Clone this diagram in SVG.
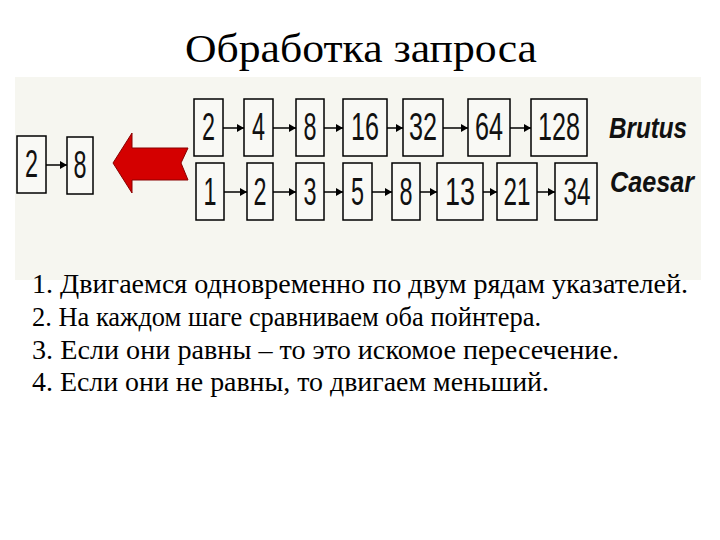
<svg xmlns="http://www.w3.org/2000/svg" width="720" height="540" viewBox="0 0 720 540">
<style>
.box{fill:#f9f9f5;stroke:#000;stroke-width:1.5}
.num{font-family:"Liberation Sans",Arial,sans-serif;font-size:38px;fill:#111;text-anchor:middle}
.lab{font-family:"Liberation Sans",Arial,sans-serif;font-size:30px;font-weight:bold;font-style:italic;fill:#111}
.ttl{font-family:"Liberation Serif","Times New Roman","DejaVu Serif",serif;font-size:40px;fill:#000;text-anchor:middle}
.step{font-family:"Liberation Serif","Times New Roman","DejaVu Serif",serif;font-size:28px;fill:#000}
.conn line{stroke:#000;stroke-width:1.5}
</style>
<defs>
<marker id="ah" viewBox="0 0 10 10" refX="10" refY="5" markerWidth="7" markerHeight="8" orient="auto" markerUnits="userSpaceOnUse" preserveAspectRatio="none">
<path d="M0,0 L10,5 L0,10 z" fill="#000"/>
</marker>
</defs>
<rect width="720" height="540" fill="#fff"/>
<text class="ttl" x="361" y="62" textLength="352" lengthAdjust="spacingAndGlyphs">Обработка запроса</text>
<rect x="15" y="77" width="686" height="203" fill="#f6f6f0"/>

<g id="connectors" class="conn">
<line x1="46" y1="165" x2="67" y2="165" marker-end="url(#ah)"/>
<line x1="223" y1="128" x2="244" y2="128" marker-end="url(#ah)"/>
<line x1="273" y1="128" x2="296" y2="128" marker-end="url(#ah)"/>
<line x1="324" y1="128" x2="343" y2="128" marker-end="url(#ah)"/>
<line x1="387" y1="128" x2="403" y2="128" marker-end="url(#ah)"/>
<line x1="443" y1="128" x2="468" y2="128" marker-end="url(#ah)"/>
<line x1="510" y1="128" x2="531" y2="128" marker-end="url(#ah)"/>
<line x1="224" y1="192" x2="247" y2="192" marker-end="url(#ah)"/>
<line x1="273" y1="192" x2="296" y2="192" marker-end="url(#ah)"/>
<line x1="324" y1="192" x2="343" y2="192" marker-end="url(#ah)"/>
<line x1="372" y1="192" x2="392" y2="192" marker-end="url(#ah)"/>
<line x1="420" y1="192" x2="437" y2="192" marker-end="url(#ah)"/>
<line x1="483" y1="192" x2="497" y2="192" marker-end="url(#ah)"/>
<line x1="537" y1="192" x2="555" y2="192" marker-end="url(#ah)"/>
</g>

<g id="result">
<g id="r2"><rect class="box" x="17" y="136" width="29" height="57"/><text class="num" x="31.5" y="177" textLength="13" lengthAdjust="spacingAndGlyphs">2</text></g>
<g id="r8"><rect class="box" x="67" y="137" width="26" height="57"/><text class="num" x="80" y="178" textLength="13" lengthAdjust="spacingAndGlyphs">8</text></g>
</g>

<g id="big-arrow">
<path d="M113,163 L132,133 L132,148 L188,148 L181,163 L188,180 L132,180 L132,193 Z" fill="#d40000" stroke="#8a0000" stroke-width="1"/>
</g>

<g id="brutus">
<g id="b2"><rect class="box" x="194" y="99" width="29" height="57"/><text class="num" x="208.5" y="140" textLength="13" lengthAdjust="spacingAndGlyphs">2</text></g>
<g id="b4"><rect class="box" x="244" y="99" width="29" height="57"/><text class="num" x="258.5" y="140" textLength="13" lengthAdjust="spacingAndGlyphs">4</text></g>
<g id="b8"><rect class="box" x="296" y="99" width="28" height="57"/><text class="num" x="310" y="140" textLength="13" lengthAdjust="spacingAndGlyphs">8</text></g>
<g id="b16"><rect class="box" x="343" y="99" width="44" height="57"/><text class="num" x="365" y="140" textLength="28" lengthAdjust="spacingAndGlyphs">16</text></g>
<g id="b32"><rect class="box" x="403" y="99" width="40" height="57"/><text class="num" x="423" y="140" textLength="28" lengthAdjust="spacingAndGlyphs">32</text></g>
<g id="b64"><rect class="box" x="468" y="99" width="42" height="57"/><text class="num" x="489" y="140" textLength="28" lengthAdjust="spacingAndGlyphs">64</text></g>
<g id="b128"><rect class="box" x="531" y="99" width="56" height="57"/><text class="num" x="559" y="140" textLength="42" lengthAdjust="spacingAndGlyphs">128</text></g>
<text class="lab" x="609" y="138" textLength="78" lengthAdjust="spacingAndGlyphs">Brutus</text>
</g>

<g id="caesar">
<g id="c1"><rect class="box" x="196" y="163" width="28" height="57"/><text class="num" x="210" y="205" textLength="13" lengthAdjust="spacingAndGlyphs">1</text></g>
<g id="c2"><rect class="box" x="247" y="163" width="26" height="57"/><text class="num" x="260" y="205" textLength="13" lengthAdjust="spacingAndGlyphs">2</text></g>
<g id="c3"><rect class="box" x="296" y="163" width="28" height="57"/><text class="num" x="310" y="205" textLength="13" lengthAdjust="spacingAndGlyphs">3</text></g>
<g id="c5"><rect class="box" x="343" y="163" width="29" height="57"/><text class="num" x="357.5" y="205" textLength="13" lengthAdjust="spacingAndGlyphs">5</text></g>
<g id="c8"><rect class="box" x="392" y="163" width="28" height="57"/><text class="num" x="406" y="205" textLength="13" lengthAdjust="spacingAndGlyphs">8</text></g>
<g id="c13"><rect class="box" x="437" y="163" width="46" height="57"/><text class="num" x="460" y="205" textLength="30" lengthAdjust="spacingAndGlyphs">13</text></g>
<g id="c21"><rect class="box" x="497" y="163" width="40" height="57"/><text class="num" x="517" y="205" textLength="27" lengthAdjust="spacingAndGlyphs">21</text></g>
<g id="c34"><rect class="box" x="555" y="163" width="42" height="57"/><text class="num" x="577" y="205" textLength="27" lengthAdjust="spacingAndGlyphs">34</text></g>
<text class="lab" x="610" y="192" textLength="84" lengthAdjust="spacingAndGlyphs">Caesar</text>
</g>

<g id="steps">
<text class="step" x="32" y="293" textLength="656" lengthAdjust="spacingAndGlyphs">1. Двигаемся одновременно по двум рядам указателей.</text>
<text class="step" x="32" y="326" textLength="509" lengthAdjust="spacingAndGlyphs">2. На каждом шаге сравниваем оба пойнтера.</text>
<text class="step" x="32" y="359" textLength="587" lengthAdjust="spacingAndGlyphs">3. Если они равны – то это искомое пересечение.</text>
<text class="step" x="32" y="391" textLength="517" lengthAdjust="spacingAndGlyphs">4. Если они не равны, то двигаем меньший.</text>
</g>
</svg>
